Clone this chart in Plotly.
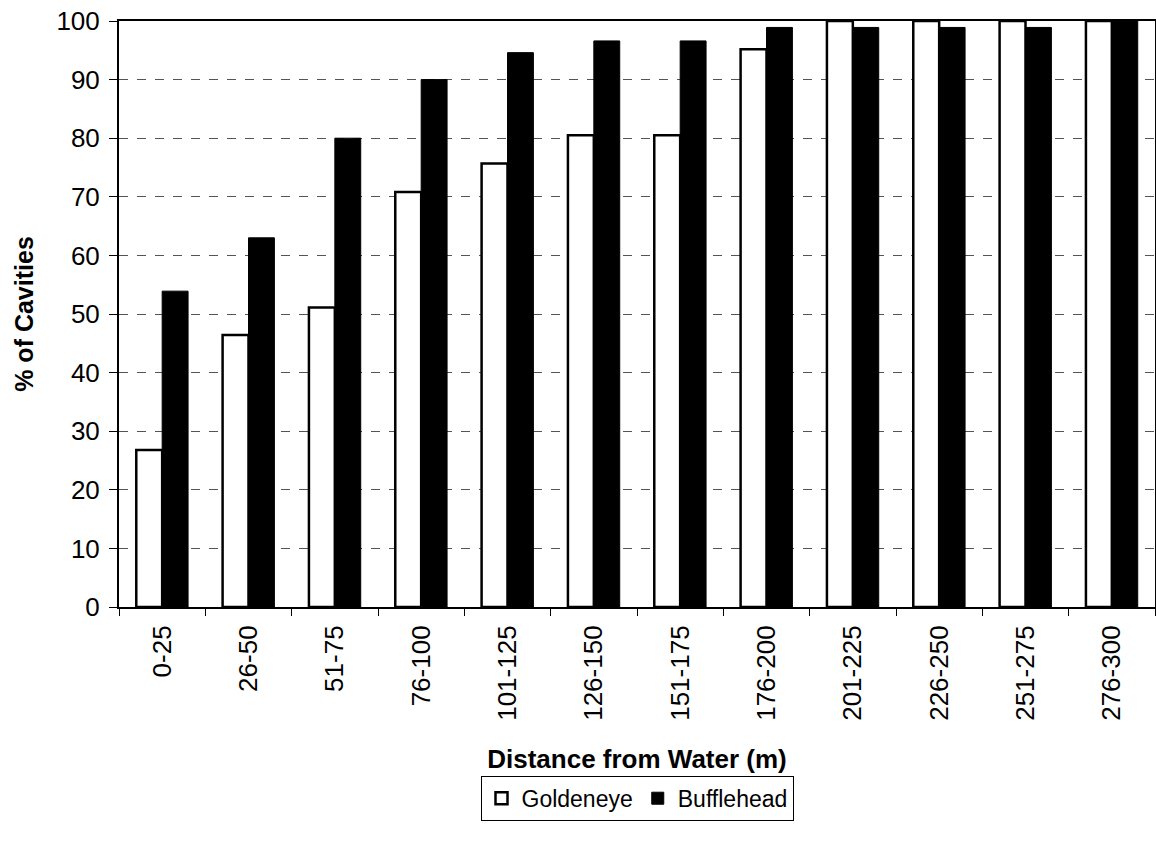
import plotly.graph_objects as go

# Distance classes from water (m)
distance_classes = ["0-25", "26-50", "51-75", "76-100", "101-125", "126-150",
                    "151-175", "176-200", "201-225", "226-250", "251-275", "276-300"]

# Cumulative % of cavities within each distance class
goldeneye = [26.8, 46.4, 51.1, 70.8, 75.7, 80.5, 80.5, 95.2, 100, 100, 100, 100]
bufflehead = [53.9, 63.0, 80.0, 90.0, 94.6, 96.6, 96.6, 98.9, 98.9, 98.9, 98.9, 100]

y_ticks = list(range(0, 101, 10))

FONT = "Liberation Sans, Arial, sans-serif"

fig = go.Figure()
fig.add_trace(go.Bar(
    x=distance_classes, y=goldeneye, name="Goldeneye",
    marker=dict(color="white", line=dict(color="black", width=2.5)),
))
fig.add_trace(go.Bar(
    x=distance_classes, y=bufflehead, name="Bufflehead",
    marker=dict(color="black", line=dict(color="black", width=1)),
))

fig.update_layout(
    width=1156, height=841,
    margin=dict(l=119, r=1, t=21, b=234),
    paper_bgcolor="white", plot_bgcolor="white",
    barmode="group", bargap=0.4, bargroupgap=0,
    font=dict(family=FONT, color="black", size=25),
    showlegend=True,
    legend=dict(
        orientation="h", x=0.5, xanchor="center", y=-0.288, yanchor="top",
        bordercolor="black", borderwidth=1, bgcolor="white",
        font=dict(family=FONT, size=23, color="black"),
        itemwidth=30, tracegroupgap=0,
    ),
)

fig.update_xaxes(
    type="category", tickson="boundaries",
    showline=True, linecolor="black", linewidth=2, mirror=True,
    ticks="outside", ticklen=7, tickcolor="black", tickwidth=1,
    tickangle=-90, tickfont=dict(size=26), ticklabelstandoff=6,
    showgrid=False, automargin=False,
    title=dict(text="<b>Distance from Water (m)</b>", font=dict(size=26), standoff=30),
)
fig.update_yaxes(
    range=[0, 100], tickvals=y_ticks,
    showline=True, linecolor="black", linewidth=2, mirror=True,
    ticks="outside", ticklen=8, tickcolor="black", tickwidth=1,
    tickfont=dict(size=26), ticklabelstandoff=4,
    showgrid=True, gridcolor="#555555", gridwidth=1, griddash="dash",
    zeroline=False, automargin=False,
    title=dict(text="<b>% of Cavities</b>", font=dict(size=25), standoff=16),
)

fig.write_html("out.html")
